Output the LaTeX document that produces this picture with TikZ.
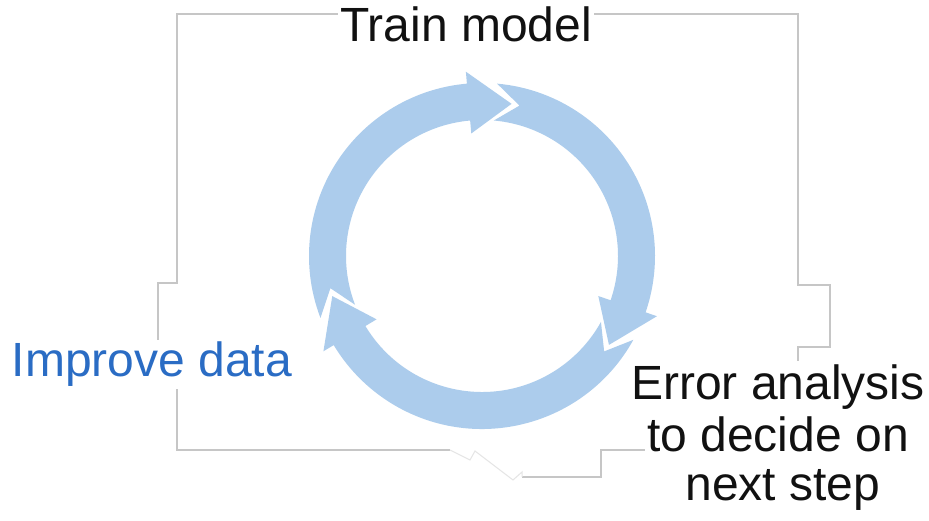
\documentclass[tikz,border=0pt]{standalone}
\usepackage{fontspec}
\setmainfont{Liberation Sans}
\definecolor{arrowfill}{RGB}{172,204,236}
\definecolor{framegray}{RGB}{198,198,198}
\definecolor{textblack}{RGB}{17,17,17}
\definecolor{improveblue}{RGB}{42,108,196}
% one curved arrow of the cycle: #1 = angle of the tail junction, #2 = angle of the head tip
\newcommand\ringarrow[2]{%
  \fill[arrowfill] (#1+6:173) arc[start angle=#1+6, end angle=#2+16, radius=173]
    -- (#2+16:185) -- (#2:155) -- (#2+16:123) -- (#2+16:136)
    arc[start angle=#2+16, end angle=#1+6, radius=136]
    -- (#1-3:155) -- cycle;}
\begin{document}
\begin{tikzpicture}[x=1pt,y=1pt,
  frame/.style={draw=framegray, line width=1.3pt, line join=miter},
  faint/.style={draw=framegray!45, line width=1pt},
  label/.style={font=\fontsize{48}{52}\selectfont, text=textblack, fill=white,
                inner sep=2pt, anchor=base},
  stacked/.style={label, text height=37pt, text depth=12pt}]
\fill[white] (0,0) rectangle (929,521);
\useasboundingbox (0,0) rectangle (929,521);

% outline of the panel
\draw[frame] (450,71) -- (177,71) -- (177,179) -- (158,179) -- (158,238) -- (177,238)
  -- (177,507) -- (798,507) -- (798,236) -- (830,236) -- (830,174) -- (798,174)
  -- (798,71) -- (601,71) -- (601,44) -- (522,44);
\draw[faint] (522,44) -- (522,49) -- (513,41) -- (475,70) -- (470,61) -- (450,71);

% the three arrows of the cycle
\begin{scope}[shift={(482,265)}]
  \ringarrow{195}{79}
  \ringarrow{79}{-35}
  \ringarrow{-35}{-165}
\end{scope}

% labels
\node[label] (train) at (466,479) {Train model};
\node[label, text=improveblue] (improve) at (152,144) {Improve data};
\node[stacked] (err1) at (778,121) {Error analysis};
\node[stacked] (err2) at (778,69) {to decide on};
\node[stacked] (err3) at (783,20) {next step};
\end{tikzpicture}
\end{document}
